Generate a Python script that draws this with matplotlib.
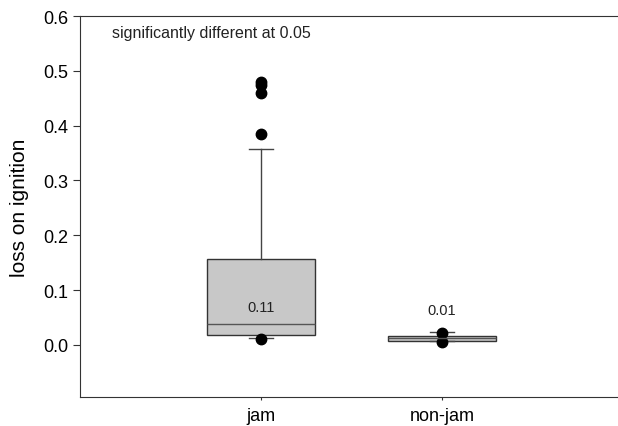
import matplotlib
matplotlib.use("Agg")
import matplotlib.pyplot as plt

plt.rcParams['font.family'] = ['Liberation Sans', 'DejaVu Sans']

groups = ["jam", "non-jam"]
q1 = [0.018, 0.008]
med = [0.038, 0.012]
q3 = [0.157, 0.017]
whislo = [0.012, 0.007]
whishi = [0.358, 0.023]
fliers = [[0.385, 0.46, 0.474, 0.48, 0.010], [0.022, 0.006]]
means = ["0.11", "0.01"]
mean_y = [0.070, 0.064]

fig = plt.figure(figsize=(6.18, 4.27), dpi=100)
ax = fig.add_axes([0.129, 0.068, 0.9, 0.892])

stats = []
for i in range(len(groups)):
    stats.append(dict(label=groups[i], q1=q1[i], med=med[i], q3=q3[i],
                      whislo=whislo[i], whishi=whishi[i], fliers=fliers[i]))

ax.bxp(stats, positions=[1, 2], widths=0.6, patch_artist=True,
       boxprops=dict(facecolor="#c8c8c8", edgecolor="#333333", linewidth=1.0),
       medianprops=dict(color="#555555", linewidth=1.0),
       whiskerprops=dict(color="#444444", linewidth=1.0),
       capprops=dict(color="#444444", linewidth=1.0),
       capwidths=0.13,
       flierprops=dict(marker="o", markerfacecolor="black", markeredgecolor="black",
                       markersize=7.5))

for i in range(len(groups)):
    ax.text(i + 1, mean_y[i], means[i], ha="center", va="center", fontsize=10.5, color="#222222")

ax.text(0.18, 0.57, "significantly different at 0.05", ha="left", va="center",
        fontsize=11.5, color="#222222")

ax.set_xlim(0.0, 3.07)
ax.set_ylim(-0.095, 0.6)
ax.set_yticks([0.0, 0.1, 0.2, 0.3, 0.4, 0.5, 0.6])
ax.set_yticklabels(["0.0", "0.1", "0.2", "0.3", "0.4", "0.5", "0.6"])
ax.set_xticks([1, 2])
ax.set_xticklabels(groups)
ax.tick_params(axis="y", labelsize=13, direction="out", length=5, color="#333333")
ax.tick_params(axis="x", labelsize=13, direction="out", length=2.5, color="#333333", pad=5)
ax.set_ylabel("loss on ignition", fontsize=15, labelpad=10)
ax.spines["right"].set_visible(False)
for s in ["left", "top", "bottom"]:
    ax.spines[s].set_color("#333333")

fig.savefig("out.png", dpi=100)
